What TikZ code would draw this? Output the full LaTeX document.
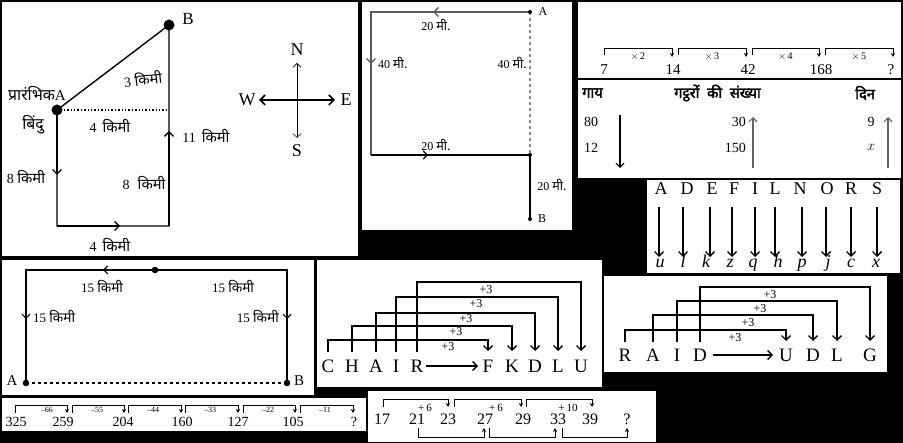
\documentclass[tikz,border=0pt]{standalone}
\usepackage{fontspec}
\setmainfont{Liberation Serif}
\newfontfamily\dev[Script=Devanagari,Scale=1.05]{Noto Sans}
\newfontfamily\devb[Script=Devanagari,Scale=1.05,FakeBold=2.5]{Noto Sans}
\usetikzlibrary{arrows.meta}
\newcommand\myfs[1]{\fontsize{#1}{#1}\selectfont}
\newcommand\kmi{{\dev किमी}}
\newcommand\mee{{\dev मी.}}
\begin{document}
\begin{tikzpicture}[x=1pt,y=-1pt,
  panel/.style={fill=white},
  ln/.style={line width=1.4pt},
  thin/.style={line width=1.1pt},
  barb/.style={-{Straight Barb[length=4.5pt,width=9pt,line width=1.4pt]}},
  sbarb/.style={-{Straight Barb[length=4pt,width=8pt,line width=1.1pt]}},
  tip/.style={-{Stealth[length=4pt,width=4pt]}},
  lbl/.style={inner sep=0pt,font=\myfs{#1}},
  lbl/.default=13]
% background and panels
\fill[black] (0,0) rectangle (903,443);
\fill[panel] (2,2) rectangle (358,256);
\fill[panel] (362,2) rectangle (572,230);
\fill[panel] (578,2) rectangle (901,78);
\fill[panel] (578,80) rectangle (901,178);
\fill[panel] (647,180) rectangle (900,273);
\fill[panel] (2,260) rectangle (314,395);
\fill[panel] (317,260) rectangle (602,387);
\fill[panel] (604,276) rectangle (887,372);
\fill[panel] (2,398) rectangle (366,431);
\fill[panel] (368,391) rectangle (656,442);

% ---------- Panel 1 ----------
\coordinate (A1) at (57,110);
\coordinate (B1) at (169,25);
\coordinate (C1) at (169,110);
\coordinate (D1) at (57,226);
\coordinate (E1) at (169,226);
\draw[ln] (A1) -- (B1) -- (E1) -- (D1) -- cycle;
\draw[ln,dotted] (A1) -- (C1);
\draw[ln,barb] (A1) -- (57,175);
\draw[ln,barb] (D1) -- (120,226);
\draw[ln,barb] (E1) -- (169,131);
\fill (A1) circle (5.5pt);
\fill (B1) circle (5.5pt);
\node[lbl=17] (lB1) at (188,19) {B};
\node[lbl=15] (lA1) at (37,94) {{\dev प्रारंभिक}A};
\node[lbl=15] (lbindu) at (33,125) {{\dev बिंदु}};
\node[lbl=14,rotate=6] (l3) at (143,79) {3 \kmi};
\node[lbl=14] (l4a) at (110,126) {4\, \kmi};
\node[lbl=14] (l11) at (206,136) {11\, \kmi};
\node[lbl=14] (l8a) at (26,177) {8 \kmi};
\node[lbl=14] (l8b) at (144,183) {8\,\, \kmi};
\node[lbl=14] (l4b) at (110,245) {4\, \kmi};
% compass
\coordinate (Wc) at (259,100);
\coordinate (Ec) at (335,100);
\coordinate (Nc) at (297,63);
\coordinate (Sc) at (297,138);
\draw[line width=1.6pt,{Straight Barb[length=5pt,width=10pt,line width=1.6pt]}-{Straight Barb[length=5pt,width=10pt,line width=1.6pt]}] (Wc) -- (Ec);
\draw[line width=0.7pt,{Straight Barb[length=4pt,width=8pt,line width=0.7pt]}-{Straight Barb[length=4pt,width=8pt,line width=0.7pt]}] (Nc) -- (Sc);
\node[lbl=18] (lN) at (297,50) {N};
\node[lbl=18] (lS) at (297,151) {S};
\node[lbl=18] (lW) at (247,100) {W};
\node[lbl=18] (lE) at (346,100) {E};

% ---------- Panel 2 ----------
\coordinate (A2) at (530,12);
\coordinate (P2a) at (371,12);
\coordinate (P2b) at (371,155);
\coordinate (M2) at (530,155);
\coordinate (B2) at (530,219);
\draw[ln,black!65] (A2) -- (P2a) -- (P2b);
\draw[thin] (P2b) -- (M2) -- (B2);
\draw[thin,dashed,black!45] (A2) -- (M2);
\draw[ln,barb,black!65] (A2) -- (433,12);
\draw[ln,barb,black!65] (P2a) -- (371,64);
\draw[thin,sbarb] (P2b) -- (428,155);
\fill (A2) circle (2pt);
\fill (M2) circle (2pt);
\fill (B2) circle (2pt);
\node[lbl=12] (lA2) at (543,12) {A};
\node[lbl=12] (lB2) at (542,219) {B};
\node[lbl=12] (t1) at (436,25) {20 \mee};
\node[lbl=12,anchor=west] (t2) at (378,63) {40 \mee};
\node[lbl=12,anchor=east] (t3) at (527,63) {40 \mee};
\node[lbl=12] (t4) at (436,145) {20 \mee};
\node[lbl=12] (t5) at (552,185) {20 \mee};

% ---------- Panel 3: sequence ----------
\foreach \xa/\xb/\lab in {604/672/2,678/746/3,752/819/4,825/893/5}{
  \draw[line width=0.8pt,tip] (\xa,55) -- (\xa,48) -- (\xb,48) -- (\xb,57);
  \node[lbl=10] at ({(\xa+\xb)/2-0},57) {$\times$\,\lab};
}
\foreach \xx/\nn in {604/7,673/14,748/42,821/168,891/?}{
  \node[lbl=15,anchor=base] at (\xx,75) {\nn};
}

% ---------- Table ----------
\node[lbl=14,anchor=west] (h1) at (582,93) {\devb गाय};
\node[lbl=14,anchor=west] (h2) at (674,93) {\devb गट्ठरों\ \ की\ \ संख्या};
\node[lbl=14,anchor=west] (h3) at (855,93) {\devb दिन};
\node[lbl=14] (n80) at (591,122) {80};
\node[lbl=14] (n12) at (591,148) {12};
\node[lbl=14,anchor=east] (n30) at (746,122) {30};
\node[lbl=14,anchor=east] (n150) at (746,148) {150};
\node[lbl=14] (n9) at (871,122) {9};
\node[lbl=14] (nx) at (871,147) {$x$};
\draw[thin,sbarb] (620,115) -- (620,168);
\draw[thin,sbarb,black!60] (753,168) -- (753,117);
\draw[thin,sbarb,black!60] (888,168) -- (888,117);

% ---------- Letters panel ----------
\foreach \xa/\la/\xb/\lb/\xc in {661/A/660/u/659,687/D/683/l/683,712/E/706/k/710,734/F/730/z/732,755/I/753/q/755,775/L/778/h/775,800/N/802/p/802,827/O/828/j/826,851/R/851/c/851,877/S/876/x/877}{
  \node[lbl=18,anchor=base] at (\xa,195) {\la};
  \node[lbl=18,anchor=base] at (\xb,268) {\itshape \lb};
  \draw[ln,barb] (\xc,207) -- (\xc,257);
}

% ---------- Panel 6: walk ----------
\coordinate (TL6) at (26,270);
\coordinate (TR6) at (287,270);
\coordinate (A6) at (26,383);
\coordinate (B6) at (287,383);
\coordinate (O6) at (155,270);
\draw[thin] (A6) -- (TL6) -- (TR6) -- (B6);
\draw[thin,dashed] (A6) -- (B6);
\draw[thin,sbarb] (O6) -- (103,270);
\draw[thin,sbarb] (TL6) -- (26,319);
\draw[thin,sbarb] (TR6) -- (287,319);
\fill (O6) circle (3.3pt);
\fill (A6) circle (3.3pt);
\fill (B6) circle (3.3pt);
\node[lbl=13] (w1) at (102,286) {15 \kmi};
\node[lbl=13] (w2) at (233,286) {15 \kmi};
\node[lbl=13,anchor=west] (w3) at (33,316) {15 \kmi};
\node[lbl=13,anchor=east] (w4) at (279,316) {15 \kmi};
\node[lbl=15] (lA6) at (12,381) {A};
\node[lbl=15] (lB6) at (299,381) {B};

% ---------- CHAIR ----------
\foreach \xx/\ll in {328/C,352/H,376/A,396/I,417/R,488/F,512/K,535/D,558/L,581/U}{
  \node[lbl=19,anchor=base] at (\xx,373) {\ll};
}
\draw[ln,barb] (426,366) -- (478,366);
\foreach \xa/\lev/\xb/\lx/\ly in {328/340/488/448/347,352/326/512/456/332,376/313/535/466/319,396/297/558/476/304,417/282/581/486/290}{
  \draw[thin,barb] (\xa,352) -- (\xa,\lev) -- (\xb,\lev) -- (\xb,351);
  \node[lbl=12] at (\lx,\ly) {+3};
}

% ---------- RAID ----------
\foreach \xx/\ll in {625/R,653/A,677/I,700/D,786/U,813/D,837/L,870/G}{
  \node[lbl=19,anchor=base] at (\xx,362) {\ll};
}
\draw[ln,barb] (713,355) -- (773,355);
\foreach \xa/\lev/\xb/\lx/\ly in {625/330/786/735/338,653/315/813/748/323,677/301/837/760/309,700/287/870/770/295}{
  \draw[thin,barb] (\xa,342) -- (\xa,\lev) -- (\xb,\lev) -- (\xb,341);
  \node[lbl=12] at (\lx,\ly) {+3};
}

% ---------- Bottom sequence ----------
\foreach \xa/\xb/\lx/\lab in {15/67/47/66,72/124/97/55,128/181/153/44,185/238/210/33,243/295/268/22,300/353/325/11}{
  \draw[line width=0.7pt,tip] (\xa,413) -- (\xa,405) -- (\xb,405) -- (\xb,413);
  \node[lbl=8] at (\lx,409.5) {--\lab};
}
\foreach \xx/\nn in {16/325,63/259,123/204,182/160,238/127,293/105,354/?}{
  \node[lbl=14,anchor=base] at (\xx,427) {\nn};
}

% ---------- Bottom middle ----------
\foreach \xx/\nn in {382/17,417/21,448/23,485/27,523/29,558/33,590/39,627/?}{
  \node[lbl=16,anchor=base] at (\xx,425) {\nn};
}
\foreach \xa/\xb/\lx/\lab in {383/448/425/6,454/521/496/6,526/592/568/10}{
  \draw[line width=0.8pt,tip] (\xa,407) -- (\xa,399) -- (\xb,399) -- (\xb,407);
  \node[lbl=11] at (\lx,408) {+\,\lab};
}
\foreach \xa/\xb in {418/484,489/555,562/627}{
  \draw[line width=0.8pt,tip] (\xa,428) -- (\xa,437) -- (\xb,437) -- (\xb,428);
}
\end{tikzpicture}
\end{document}
